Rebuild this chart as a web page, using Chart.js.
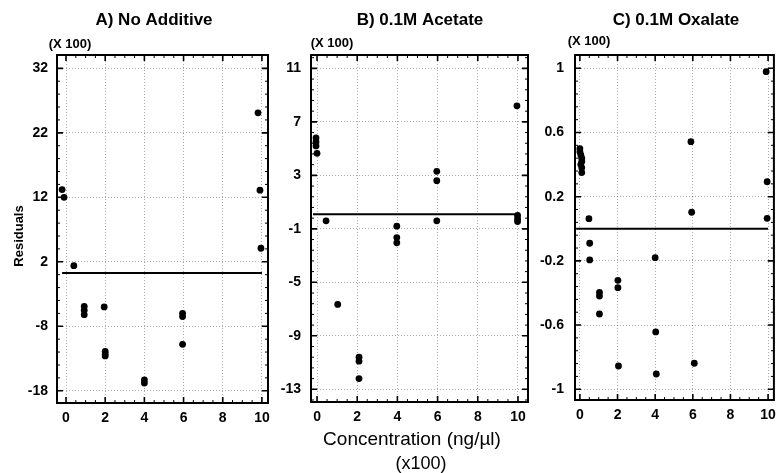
<!DOCTYPE html>
<html>
<head>
<meta charset="utf-8">
<script src="https://cdn.jsdelivr.net/npm/chart.js@4.4.1/dist/chart.umd.min.js"></script>
<style>
html,body{margin:0;padding:0;background:#fff;}
#wrap{position:relative;width:783px;height:473px;overflow:hidden;background:#fff;}
canvas{position:absolute;top:0;}
</style>
</head>
<body>
<div id="wrap">
<canvas id="cA" width="278" height="473" style="left:0px"></canvas>
<canvas id="cB" width="262" height="473" style="left:278px"></canvas>
<canvas id="cC" width="243" height="473" style="left:540px"></canvas>
</div>
<script>
// ---------- texts ----------
const panelTitles = ["A) No Additive", "B) 0.1M Acetate", "C) 0.1M Oxalate"];
const scaleNote = "(X 100)";
const xTitle = "Concentration (ng/\u00b5l)";
const xTitle2 = "(x100)";
const yTitle = "Residuals";

// ---------- tick labels ----------
const xTicks = [0, 2, 4, 6, 8, 10];
const aTicks = [-18, -8, 2, 12, 22, 32];
const bTicks = [-13, -9, -5, -1, 3, 7, 11];
const cTicks = [-1, -0.6, -0.2, 0.2, 0.6, 1];

// ---------- data: A) No Additive ----------
const aX = [-0.2, -0.1, 9.8, 9.9, 9.95, 0.4, 0.93, 0.93, 0.93, 1.95, 2.0, 2.0, 2.0, 4.0, 4.0, 5.95, 5.95, 5.95];
const aY = [13.2, 12.0, 25.1, 13.1, 4.1, 1.4, -4.9, -5.5, -6.2, -5.0, -11.9, -12.3, -12.6, -16.3, -16.8, -6.0, -6.5, -10.8];

// ---------- data: B) 0.1M Acetate ----------
const bX = [-0.05, -0.05, -0.05, 0.0, 0.45, 3.97, 3.97, 3.97, 5.96, 5.96, 5.96, 9.95, 9.98, 9.98, 9.98, 1.03, 2.09, 2.09, 2.09];
const bY = [5.8, 5.5, 5.2, 4.65, -0.4, -0.8, -1.65, -2.05, 3.3, 2.6, -0.4, 8.2, 0.0, -0.25, -0.45, -6.65, -10.6, -10.9, -12.2];

// ---------- data: C) 0.1M Oxalate ----------
const cX = [0.0, 0.0, 0.05, 0.1, 0.1, 0.05, 0.1, 0.1, 0.48, 5.9, 5.94, 9.9, 9.95, 9.95, 0.52, 0.52, 1.04, 1.04, 1.04, 2.02, 2.02, 2.05, 4.0, 4.03, 4.06, 6.08];
const cY = [0.50, 0.48, 0.46, 0.44, 0.42, 0.40, 0.38, 0.35, 0.063, 0.543, 0.103, 0.979, 0.293, 0.065, -0.09, -0.194, -0.396, -0.419, -0.531, -0.321, -0.367, -0.855, -0.18, -0.643, -0.905, -0.838];

// ---------- fitted (zero-residual) lines ----------
const fitX = [-0.2, 10];
const aFit = [0.25, 0.25];
const bFit = [0.1, 0.1];
const cFit = [0, 0];

Chart.defaults.font.family = '"Liberation Sans", Arial, Helvetica, sans-serif';
Chart.defaults.color = '#000';

function pts(xs, ys){ return xs.map((x, i) => ({x: x, y: ys[i]})); }

function decorPlugin(p){
  return {
    id: 'decor',
    afterDraw(chart){
      const ctx = chart.ctx, a = chart.chartArea;
      const xs = chart.scales.x, ys = chart.scales.y;
      const L = p.L;
      ctx.save();
      ctx.strokeStyle = '#000';
      function drawTicks(scale, origin, step, majors, horiz){
        const k0 = Math.ceil((scale.min - origin) / step - 1e-9);
        const k1 = Math.floor((scale.max - origin) / step + 1e-9);
        for (let k = k0; k <= k1; k++){
          const v = origin + k * step;
          const isMajor = majors.some(m => Math.abs(m - v) < step * 0.1);
          const len = isMajor ? 6 : 3;
          ctx.lineWidth = isMajor ? 1.6 : 1;
          const px = scale.getPixelForValue(v);
          ctx.beginPath();
          if (horiz){
            ctx.moveTo(px, a.bottom); ctx.lineTo(px, a.bottom - len);
            ctx.moveTo(px, a.top); ctx.lineTo(px, a.top + len);
          } else {
            ctx.moveTo(a.left, px); ctx.lineTo(a.left + len, px);
            ctx.moveTo(a.right, px); ctx.lineTo(a.right - len, px);
          }
          ctx.stroke();
        }
      }
      drawTicks(xs, 0, 0.5, xTicks, true);
      drawTicks(ys, p.yTicks[0], p.yMinor, p.yTicks, false);
      ctx.lineWidth = 2;
      ctx.strokeRect(a.left, a.top, a.right - a.left, a.bottom - a.top);
      ctx.fillStyle = '#000';
      ctx.textAlign = 'center';
      ctx.textBaseline = 'middle';
      ctx.font = 'bold 17px "Liberation Sans", Arial, sans-serif';
      ctx.fillText(p.title, p.titleX - L, 20);
      ctx.font = 'bold 13px "Liberation Sans", Arial, sans-serif';
      ctx.fillText(scaleNote, p.noteX - L, p.noteY);
      if (p.yTitle){
        ctx.save();
        ctx.translate(19 - L, 236);
        ctx.rotate(-Math.PI / 2);
        ctx.font = 'bold 13px "Liberation Sans", Arial, sans-serif';
        ctx.fillText(yTitle, 0, 0);
        ctx.restore();
      }
      if (p.xTitle){
        ctx.font = '19px "Liberation Sans", Arial, sans-serif';
        ctx.fillText(xTitle, 412 - L, 440);
        ctx.font = '18px "Liberation Sans", Arial, sans-serif';
        ctx.fillText(xTitle2, 421 - L, 464);
      }
      ctx.restore();
    }
  };
}

function makePanel(p){
  const ctx = document.getElementById(p.id).getContext('2d');
  return new Chart(ctx, {
    data: {
      datasets: [
        {
          type: 'scatter',
          data: pts(p.x, p.y),
          pointRadius: 3.4,
          pointBackgroundColor: '#000',
          pointBorderColor: '#000',
          pointBorderWidth: 0,
          pointStyle: 'circle'
        },
        {
          type: 'line',
          data: pts(fitX, p.fit),
          borderColor: '#000',
          borderWidth: 2,
          pointRadius: 0,
          fill: false,
          tension: 0
        }
      ]
    },
    options: {
      responsive: false,
      animation: false,
      devicePixelRatio: 1,
      layout: { padding: { left: 0, right: p.padR, top: 55, bottom: 0 } },
      plugins: { legend: { display: false }, tooltip: { enabled: false }, title: { display: false } },
      scales: {
        x: {
          type: 'linear',
          position: 'bottom',
          min: p.xmin, max: p.xmax,
          afterBuildTicks: s => { s.ticks = xTicks.map(v => ({value: v})); },
          afterFit: s => { s.height = 473 - p.bottom; },
          ticks: { font: { size: 14, weight: 'bold' }, color: '#000', padding: 7, maxRotation: 0, autoSkip: false },
          grid: { color: 'rgba(0,0,0,0.33)', lineWidth: 1, drawTicks: false },
          border: { display: false, dash: [1, 2] }
        },
        y: {
          type: 'linear',
          position: 'left',
          min: p.ymin, max: p.ymax,
          afterBuildTicks: s => { s.ticks = p.yTicks.map(v => ({value: v})); },
          afterFit: s => { s.width = p.yw; },
          ticks: { font: { size: 14, weight: 'bold' }, color: '#000', padding: p.yPad, autoSkip: false,
                   callback: v => String(+Number(v).toFixed(2)) },
          grid: { color: 'rgba(0,0,0,0.33)', lineWidth: 1, drawTicks: false },
          border: { display: false, dash: [1, 2] }
        }
      }
    },
    plugins: [decorPlugin(p)]
  });
}

makePanel({ id: 'cA', L: 0, x: aX, y: aY, fit: aFit, yTicks: aTicks, yMinor: 2,
  xmin: -0.46, xmax: 10.31, ymin: -19.9, ymax: 34.07, yw: 57, padR: 10, bottom: 403, yPad: 9,
  title: panelTitles[0], titleX: 154, noteX: 70, noteY: 44, yTitle: true, xTitle: false });
makePanel({ id: 'cB', L: 278, x: bX, y: bY, fit: bFit, yTicks: bTicks, yMinor: 0.8,
  xmin: -0.3, xmax: 10.5, ymin: -13.95, ymax: 12.0, yw: 33, padR: 12, bottom: 402, yPad: 10,
  title: panelTitles[1], titleX: 420, noteX: 332, noteY: 43, yTitle: false, xTitle: true });
makePanel({ id: 'cC', L: 540, x: cX, y: cY, fit: cFit, yTicks: cTicks, yMinor: 0.08,
  xmin: -0.26, xmax: 10.31, ymin: -1.067, ymax: 1.083, yw: 35, padR: 5, bottom: 400, yPad: 11,
  title: panelTitles[2], titleX: 676, noteX: 589, noteY: 41, yTitle: false, xTitle: false });
</script>
</body>
</html>
